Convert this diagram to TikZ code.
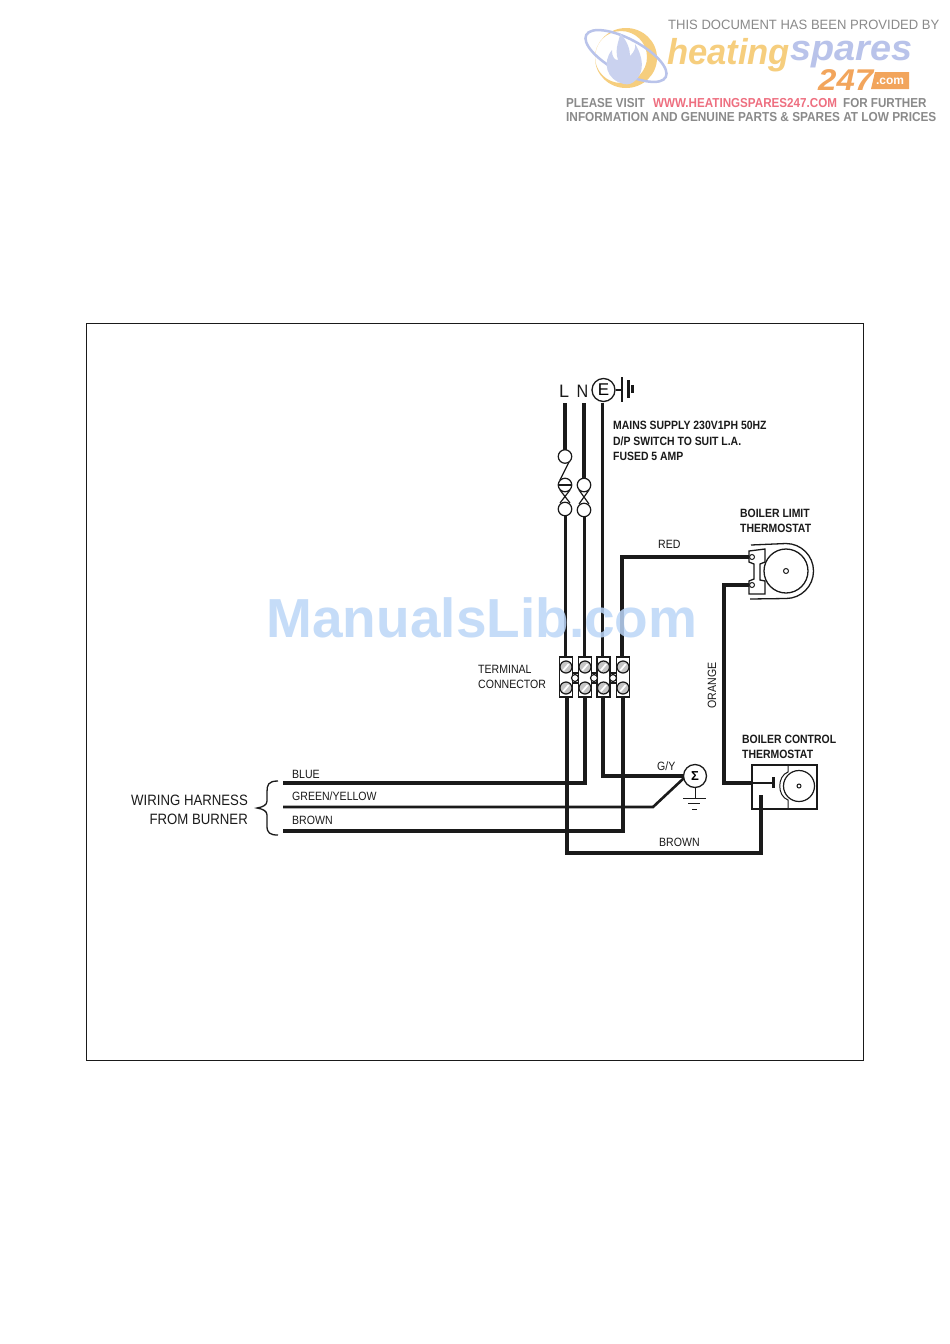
\documentclass[tikz,border=0pt]{standalone}
\usepackage{fontspec}
\setmainfont{Liberation Sans}
\definecolor{ink}{HTML}{1A1A1A}
\definecolor{wm}{HTML}{BBD6F7}
\definecolor{grayt}{HTML}{8A8A8A}
\definecolor{orgA}{HTML}{F6CE7E}
\definecolor{orgB}{HTML}{F2A55C}
\definecolor{bluA}{HTML}{B9C3EA}
\definecolor{redl}{HTML}{EE6F80}
\newcommand{\fs}[1]{\fontsize{#1}{#1}\selectfont}
\tikzset{
 wire/.style={draw=ink,line width=3.2pt,line join=miter},
 thin wire/.style={draw=ink,line width=1.2pt},
 part/.style={draw=ink,line width=1.3pt},
 lab/.style={font=\fs{12},text=ink,inner sep=0pt,anchor=west,xscale=.88},
 labb/.style={font=\fs{12}\bfseries,text=ink,inner sep=0pt,anchor=west,xscale=.87},
 bigl/.style={font=\fs{15},text=ink,inner sep=0pt,xscale=.88},
 logot/.style={font=\fs{13}\bfseries,text=grayt,inner sep=0pt,anchor=west,xscale=.895},
 screw/.style={circle,draw=ink,line width=1.2pt,fill=gray!45,minimum size=12pt,inner sep=0pt},
 fuse/.style={circle,draw=ink,line width=1.2pt,fill=white,minimum size=13.5pt,inner sep=0pt},
 dotc/.style={circle,draw=ink,line width=1pt,fill=white,minimum size=5pt,inner sep=0pt},
}
\begin{document}
\begin{tikzpicture}[x=1pt,y=-1pt]
\useasboundingbox (0,0) rectangle (950,1344);
\fill[white] (0,0) rectangle (950,1344);
% frame
\draw[draw=ink,line width=.7pt] (86,323) rectangle (863,1060);

% logo
\fill[orgA,even odd rule] (626,58) ellipse (31 and 30) (621,57) ellipse (26 and 26);
\begin{scope}[rotate around={-28:(626,56)}]
\draw[bluA,line width=2.5pt] (626,56) ellipse (45 and 17);
\end{scope}
\fill[bluA!75] (624,84) .. controls (606,80) and (602,62) .. (612,50) .. controls (612,58) and (615,60) .. (618,60) .. controls (614,48) and (620,40) .. (620,33) .. controls (628,42) and (630,50) .. (630,56) .. controls (634,52) and (636,48) .. (635,44) .. controls (644,58) and (644,72) .. (636,80) .. controls (632,84) and (628,85) .. (624,84) -- cycle;
\node[logot,font=\fs{13.5},xscale=1.08] (t1) at (668,25) {THIS DOCUMENT HAS BEEN PROVIDED BY};
\node[inner sep=0pt,anchor=west,font=\fs{36}\bfseries\itshape,text=orgA,xscale=.96] (t2) at (667,55) {heating};
\node[inner sep=0pt,anchor=west,font=\fs{36}\bfseries\itshape,text=bluA,xscale=1.05] (t3) at (790,55) {spares};
\node[inner sep=0pt,anchor=west,font=\fs{30}\bfseries\itshape,text=orgB,xscale=1.1] (t4) at (818,80) {247};
\fill[orgB] (875,72) -- (909,72) -- (909,89) -- (871,89) -- cycle;
\node[inner sep=0pt,font=\fs{12}\bfseries,text=white] (t5) at (890,81) {.com};
\node[logot] (t6) at (566,103) {PLEASE VISIT};
\node[logot,text=redl] (t7) at (653,103) {WWW.HEATINGSPARES247.COM};
\node[logot] (t8) at (843,103) {FOR FURTHER};
\node[logot,xscale=1.016] (t9) at (566,117) {INFORMATION AND GENUINE PARTS \& SPARES AT LOW PRICES};

% coordinates
\coordinate (Ltop) at (565,403); \coordinate (Lbot) at (567,853);
\coordinate (Ntop) at (584,403);
\coordinate (Etop) at (602.5,403);
\coordinate (BrCorner) at (761,853); \coordinate (BrEnd) at (761,795);
\coordinate (BlueL) at (283,783); \coordinate (BlueR) at (585,783);
\coordinate (BrownL) at (283,831); \coordinate (BrownR) at (623,831);
\coordinate (RedCorner) at (622,557); \coordinate (RedEnd) at (750,557);
\coordinate (OrgS) at (750,585); \coordinate (OrgA) at (724,585); \coordinate (OrgB) at (724,783); \coordinate (OrgE) at (773,783);
\coordinate (GYL) at (283,807); \coordinate (GYM) at (653,807);

% wires
\draw[wire,line width=4pt] (Ltop) -- (565,450);
\draw[wire,line width=4pt] (Ntop) -- (584,480);
\draw[wire,line width=3.2pt] (Etop) -- (602.5,660);
\draw[wire] (565.5,512) -- (565.5,660);
\draw[wire] (584.5,512) -- (584.5,660);
\draw[wire,line width=3.8pt] (Lbot |- 0,695) -- (Lbot) -- (BrCorner) -- (BrEnd);
\draw[wire] (585,695) -- (BlueR) -- (BlueL);
\draw[wire,line width=3.6pt] (623,695) -- (BrownR) -- (BrownL);
\draw[wire] (622,660) -- (RedCorner) -- (RedEnd);
\draw[wire] (OrgS) -- (OrgA) -- (OrgB) -- (752,783);
\draw[wire,line width=1.6pt] (752,783) -- (OrgE);
\draw[wire,line width=2.6pt] (GYL) -- (GYM) -- (684,778);
\draw[wire] (603,695) -- (603,776) -- (684,776);

% fuses
\draw[thin wire] (570,460) -- (560,480) (560,490) -- (570,503) (570,490) -- (560,503);
\draw[thin wire] (589,490) -- (579,504) (579,490) -- (589,504);
\node[fuse] (f1) at (565,456.5) {};
\node[fuse] (f2) at (565,485) {};
\draw[ink,line width=1.2pt] (f2.west) -- (f2.east);
\node[fuse] (f3) at (565,509) {};
\node[fuse] (f4) at (584,485) {};
\node[fuse] (f5) at (584,510) {};

% terminal connector
\foreach \n/\x in {a/566,b/585,c/603.5,d/623}{
  \node[draw=ink,line width=1.7pt,fill=white,minimum width=13pt,minimum height=40pt,inner sep=0pt] (blk\n) at (\x,677) {};
  \node[screw] (s1\n) at (\x,667) {};
  \node[screw] (s2\n) at (\x,688) {};
  \fill[white] (\x-3.5,670) -- (\x+2,663.5) -- (\x+3.5,664.5) -- (\x-2,671) -- cycle;
  \fill[white] (\x-3.5,691) -- (\x+2,684.5) -- (\x+3.5,685.5) -- (\x-2,692) -- cycle;
}
\foreach \xa/\xb in {573/578,592/597,610.5/616.5}{
  \draw[draw=ink,line width=1.2pt] (\xa,673) -- (\xb,673) (\xa,683) -- (\xb,683);
}
\foreach \n/\x in {p/575,q/594,r/613}{
  \node[circle,draw=ink,line width=1.2pt,fill=white,minimum size=7pt,inner sep=0pt] (br\n) at (\x,678) {};
}

% E symbol
\node[circle,draw=ink,line width=1.3pt,minimum size=23pt,inner sep=0pt,font=\fs{17}] (esym) at (603.5,390) {E};
\coordinate (eg) at (622,390);
\draw[part] (esym.east) -- (eg);
\draw[ink,line width=1.6pt] (622,377) -- (622,402);
\draw[ink,line width=3pt] (628,380) -- (628,398);
\draw[ink,line width=3pt] (632.5,385) -- (632.5,393);
\node[inner sep=0pt,font=\fs{18},text=ink] (lL) at (564,391) {L};
\node[inner sep=0pt,font=\fs{18},text=ink,xscale=.9] (lN) at (582.5,391) {N};

% earth
\node[circle,draw=ink,line width=1.3pt,fill=white,minimum size=23pt,inner sep=0pt,font=\fs{13}\bfseries] (earth) at (695,776) {Σ};
\coordinate (gnd) at (695,798);
\draw[part,line width=1pt] (earth.south) -- (gnd);
\draw[ink,line width=1pt] (683,798) -- (706,798) (688,803) -- (700,803) (692,809) -- (697,809);

% limit thermostat
\draw[part,fill=white] (751,545) -- (786,543.5) arc[start angle=-90,end angle=90,radius=27.5] -- (750,599);
\node[circle,draw=ink,line width=1.3pt,minimum size=44pt,inner sep=0pt] (lcirc) at (786,571) {};
\draw[part,fill=white] (749,551) -- (765,549) -- (765,562) -- (760,564) -- (760,580) -- (765,581) -- (765,594) -- (749,594) -- (749,581) -- (754,579) -- (754,564) -- (749,562) -- cycle;
\node[dotc] (sc1) at (752,557) {};
\node[dotc] (sc2) at (752,585) {};
\node[dotc] (lc) at (786,571) {};

% control thermostat
\draw[draw=ink,line width=1.2pt] (752,765) rectangle (817,809);
\draw[draw=ink,line width=2.4pt] (752,809) -- (817,809);
\node[circle,draw=ink,line width=1.2pt,minimum size=31pt,inner sep=0pt] (cc) at (799,786) {};
\node[circle,draw=ink,line width=1pt,minimum size=4pt,inner sep=0pt] (cd) at (799,786) {};
\draw[draw=ink,line width=1pt] (788,765) -- (788,772) .. controls (777,776) and (777,796) .. (788,800) -- (788,809);
\draw[ink,line width=3pt] (773.5,777) -- (773.5,788);

% brace
\draw[ink,line width=1.3pt] (278,781) .. controls (268,781) and (267,785) .. (267,792) -- (267,801) .. controls (267,805) and (263,807) .. (257,808) .. controls (263,809) and (267,811) .. (267,815) -- (267,826) .. controls (267,833) and (270,835) .. (278,835);

% labels
\node[bigl,anchor=east] (wh) at (248,800) {WIRING HARNESS};
\node[bigl,anchor=east] (fb) at (248,819) {FROM BURNER};
\node[lab] (lb) at (292,774) {BLUE};
\node[lab] (lg) at (292,796) {GREEN/YELLOW};
\node[lab] (lbr) at (292,820) {BROWN};
\node[lab] (lr) at (658,544) {RED};
\node[lab] (lgy) at (657,766) {G/Y};
\node[lab] (lb2) at (659,842) {BROWN};
\node[font=\fs{12},text=ink,inner sep=0pt,rotate=90,xscale=.88] (lo) at (712,685.5) {ORANGE};
\node[lab] (tc1) at (478,669) {TERMINAL};
\node[lab] (tc2) at (478,684) {CONNECTOR};
\node[labb] (m1) at (613,425) {MAINS SUPPLY 230V1PH 50HZ};
\node[labb] (m2) at (613,441) {D/P SWITCH TO SUIT L.A.};
\node[labb] (m3) at (613,456) {FUSED 5 AMP};
\node[labb] (bl1) at (740,513) {BOILER LIMIT};
\node[labb] (bl2) at (740,528) {THERMOSTAT};
\node[labb] (bc1) at (742,739) {BOILER CONTROL};
\node[labb] (bc2) at (742,754) {THERMOSTAT};

% watermark
\node[inner sep=0pt,font=\fs{55}\bfseries,text=wm,opacity=.85,anchor=center] (wmk) at (482,618) {ManualsLib.com};
\end{tikzpicture}
\end{document}
